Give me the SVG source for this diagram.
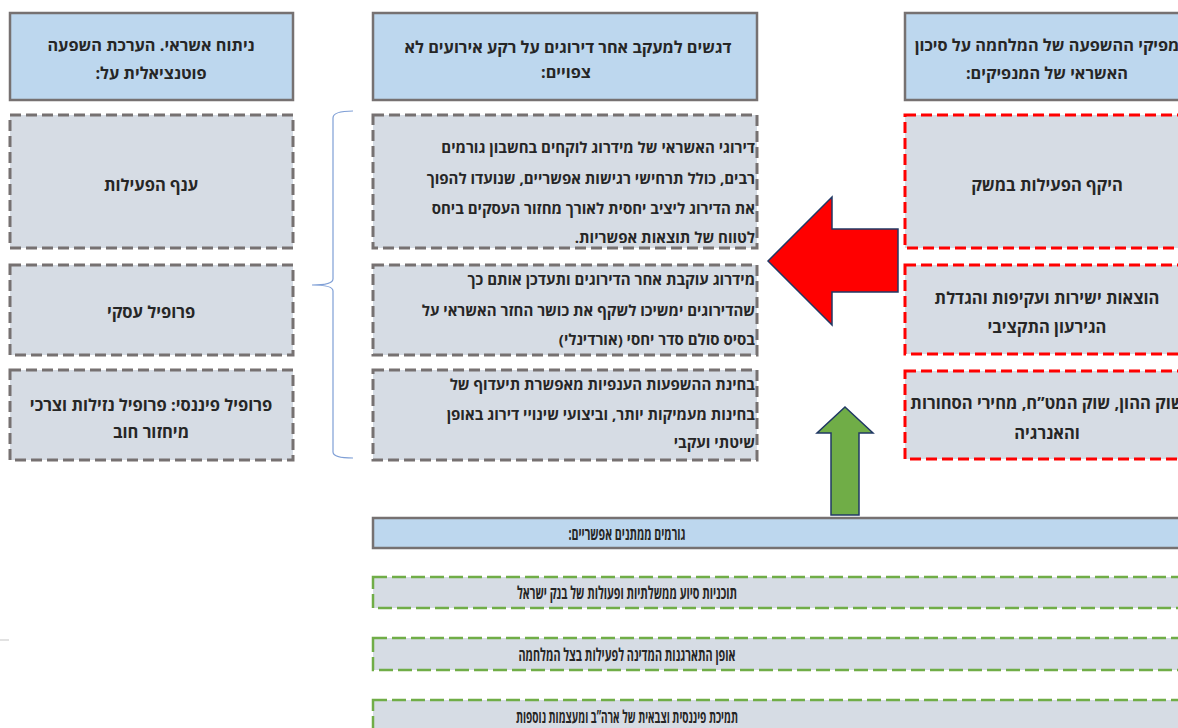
<svg xmlns="http://www.w3.org/2000/svg" width="1178" height="728" viewBox="0 0 1178 728">
<style>
.hdr{fill:#BDD7EE;stroke:#767171;stroke-width:2.5}
.gbox{fill:#D6DCE4;stroke:#767171;stroke-width:3;stroke-dasharray:11 5}
.rbox{fill:#D6DCE4;stroke:#FF0000;stroke-width:3;stroke-dasharray:11 5}
.grbox{fill:#D6DCE4;stroke:#70AD47;stroke-width:2.5;stroke-dasharray:14 5}
text{font-family:"Open Sans","Liberation Sans","DejaVu Sans",sans-serif;font-weight:bold;font-size:15px;fill:#262626;direction:rtl}
.c{text-anchor:middle;font-size:16.5px}
.h{font-size:16.3px}
.r{text-anchor:start}
.s{font-size:17.5px}
</style>
<rect width="1178" height="728" fill="#FFFFFF"/>

<g id="left-header"><rect class="hdr" x="10" y="13" width="283" height="87"/><text class="c h" x="151" y="51">ניתוח אשראי. הערכת השפעה</text><text class="c h" x="151" y="79">פוטנציאלית על:</text></g>
<g id="left-1"><rect class="gbox" x="10" y="115" width="283" height="133"/><text class="c" x="151" y="191">ענף הפעילות</text></g>
<g id="left-2"><rect class="gbox" x="10" y="265" width="283" height="90"/><text class="c" x="151" y="318">פרופיל עסקי</text></g>
<g id="left-3"><rect class="gbox" x="10" y="370" width="283" height="90"/><text class="c" x="151" y="411">פרופיל פיננסי: פרופיל נזילות וצרכי</text><text class="c" x="151" y="438">מיחזור חוב</text></g>

<g id="mid-header"><rect class="hdr" x="373" y="13" width="384" height="87"/><text class="c h" x="568" y="53">דגשים למעקב אחר דירוגים על רקע אירועים לא</text><text class="c h" x="566" y="78">צפויים:</text></g>
<g id="mid-1"><rect class="gbox" x="373" y="115" width="384" height="133"/>
<text class="r" x="755" y="153">דירוגי האשראי של מידרוג לוקחים בחשבון גורמים</text>
<text class="r" x="755" y="184">רבים, כולל תרחישי רגישות אפשריים, שנועדו להפוך</text>
<text class="r" x="755" y="214">את הדירוג ליציב יחסית לאורך מחזור העסקים ביחס</text>
<text class="r" x="755" y="243">לטווח של תוצאות אפשריות.</text></g>
<g id="mid-2"><rect class="gbox" x="373" y="265" width="384" height="90"/>
<text class="r" x="755" y="285">מידרוג עוקבת אחר הדירוגים ותעדכן אותם כך</text>
<text class="r" x="755" y="316">שהדירוגים ימשיכו לשקף את כושר החזר האשראי על</text>
<text class="r" x="755" y="345">בסיס סולם סדר יחסי (אורדינלי)</text></g>
<g id="mid-3"><rect class="gbox" x="373" y="370" width="384" height="90"/>
<text class="r" x="755" y="390">בחינת ההשפעות הענפיות מאפשרת תיעדוף של</text>
<text class="r" x="755" y="420">בחינות מעמיקות יותר, וביצועי שינויי דירוג באופן</text>
<text class="r" x="755" y="448">שיטתי ועקבי</text></g>

<g id="right-header"><rect class="hdr" x="905" y="13" width="284" height="87"/><text class="c h" x="1047" y="51">מפיקי ההשפעה של המלחמה על סיכון</text><text class="c h" x="1047" y="79">האשראי של המנפיקים:</text></g>
<g id="right-1"><rect class="rbox" x="905" y="115" width="284" height="133"/><text class="c" x="1047" y="191">היקף הפעילות במשק</text></g>
<g id="right-2"><rect class="rbox" x="905" y="265" width="284" height="89"/><text class="c" x="1047" y="304">הוצאות ישירות ועקיפות והגדלת</text><text class="c" x="1047" y="333">הגירעון התקציבי</text></g>
<g id="right-3"><rect class="rbox" x="905" y="371" width="284" height="88"/><text class="c" x="1047" y="409">שוק ההון, שוק המט”ח, מחירי הסחורות</text><text class="c" x="1047" y="439">והאנרגיה</text></g>

<g id="mitigants-header"><rect class="hdr" x="373" y="518" width="830" height="30"/><text class="c s" x="627" y="540" textLength="117" lengthAdjust="spacingAndGlyphs">גורמים ממתנים אפשריים:</text></g>
<g id="mitigant-1"><rect class="grbox" x="373" y="577" width="830" height="31"/><text class="c s" x="627" y="599" textLength="220" lengthAdjust="spacingAndGlyphs">תוכניות סיוע ממשלתיות ופעולות של בנק ישראל</text></g>
<g id="mitigant-2"><rect class="grbox" x="373" y="638" width="830" height="32"/><text class="c s" x="627" y="661" textLength="217" lengthAdjust="spacingAndGlyphs">אופן התארגנות המדינה לפעילות בצל המלחמה</text></g>
<g id="mitigant-3"><rect class="grbox" x="373" y="700" width="830" height="40"/><text class="c s" x="627" y="723" textLength="222" lengthAdjust="spacingAndGlyphs">תמיכת פיננסית וצבאית של ארה”ב ומעצמות נוספות</text></g>

<g id="connectors">
<polygon points="768,261 832,197 832,229 898,229 898,292 832,292 832,325" fill="#FF0000" stroke="#203864" stroke-width="1.5" stroke-linejoin="miter"/>
<polygon points="845,407 873,433 859,433 859,515 831,515 831,433 817,433" fill="#70AD47" stroke="#203864" stroke-width="1.5"/>
<path d="M353,111 Q333,111 333,118 L333,279 Q333,285 312,285 Q333,285 333,291 L333,452 Q333,458 353,458" fill="none" stroke="#7F9FD6" stroke-width="1.2"/>
</g>
<line x1="0" y1="640" x2="9" y2="640" stroke="#D9D9D9" stroke-width="1.5"/>
</svg>
